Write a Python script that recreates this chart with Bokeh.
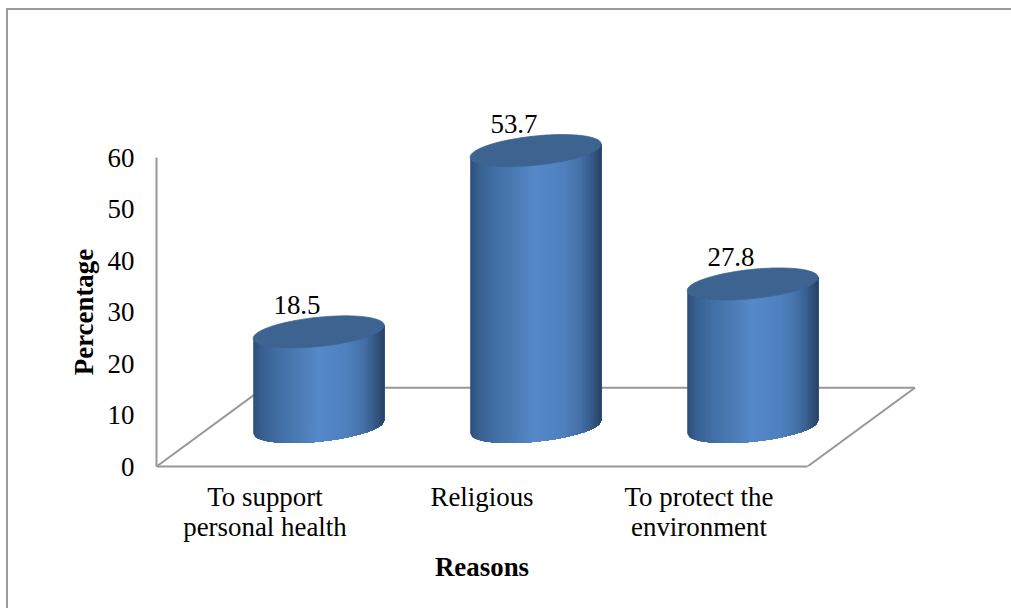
import numpy as np
from bokeh.plotting import figure
from bokeh.models import Range1d, FixedTicker, LinearAxis
from bokeh.core.properties import value
from bokeh.embed import file_html
from bokeh.resources import INLINE

categories = ["To support\npersonal health", "Religious", "To protect the\nenvironment"]
percentages = [18.5, 53.7, 27.8]
labels = ["18.5", "53.7", "27.8"]
y_ticks = [0, 10, 20, 30, 40, 50, 60]
x_title = "Reasons"
y_title = "Percentage"

W, H = 1011, 608
F_L, F_B = 156, 142
PX_X, PX_Y = 217.0, 5.15
SERIF = "Liberation Serif"
FS = "26.9px"
GREY = "#979797"

frame_w, frame_h = W - F_L, H - F_B
p = figure(width=W, height=H, output_backend="svg", toolbar_location=None,
           x_axis_type=None, y_axis_type=None,
           x_range=Range1d(-0.5, -0.5 + frame_w / PX_X),
           y_range=Range1d(0, frame_h / PX_Y),
           min_border_left=F_L, min_border_right=0, min_border_top=0, min_border_bottom=F_B)
p.grid.visible = False
p.outline_line_color = None
p.background_fill_color = None
p.border_fill_color = None
# outer frame: its right and bottom sides run off the page
p.styles = {
    "background-color": "white",
    "background-image": "linear-gradient(#9a9a9a,#9a9a9a),linear-gradient(#9a9a9a,#9a9a9a)",
    "background-size": "100% 2px, 2px 100%",
    "background-position": "6px 8px, 6px 8px",
    "background-repeat": "no-repeat",
}

# axes
yax = LinearAxis(ticker=FixedTicker(ticks=y_ticks), bounds=(0, 60))
xax = LinearAxis(ticker=FixedTicker(ticks=[0, 1, 2]), bounds=(-0.5, 2.5),
                 major_label_overrides={i: c for i, c in enumerate(categories)})
for ax in (xax, yax):
    ax.axis_line_color = GREY
    ax.axis_line_width = 2
    ax.major_tick_line_color = None
    ax.minor_tick_line_color = None
    ax.major_label_text_font = SERIF
    ax.major_label_text_font_size = FS
    ax.major_label_text_color = "black"
yax.major_label_standoff = 16
xax.major_label_standoff = 9
xax.major_label_text_line_height = 1.03
p.add_layout(yax, "left")
p.add_layout(xax, "below")

# axis titles, centred on the axes (not on the whole plotting area)
xt = LinearAxis(ticker=FixedTicker(ticks=[1]), major_label_overrides={1: x_title})
yt = LinearAxis(ticker=FixedTicker(ticks=[30]), major_label_overrides={30: y_title},
                major_label_orientation="vertical")
for ax in (xt, yt):
    ax.axis_line_color = None
    ax.major_tick_line_color = None
    ax.minor_tick_line_color = None
    ax.major_label_text_font = SERIF
    ax.major_label_text_font_size = FS
    ax.major_label_text_font_style = "bold"
    ax.major_label_text_color = "black"
xt.major_label_standoff = 0
yt.major_label_standoff = 0
p.add_layout(yt, "left")
p.add_layout(xt, "below")

# 3-D floor
DX, DY = 0.495, 15.3
floor_x = [[-0.5, -0.5 + DX], [-0.5 + DX, 2.5 + DX], [2.5 + DX, 2.5]]
floor_y = [[0, DY], [DY, DY], [DY, 0]]
p.multi_line(floor_x, floor_y, line_color=GREY, line_width=2)

# data labels, partly covered by the cylinders
bx = [i + DX / 2 for i in range(3)]
p.text([b - 0.1 for b in bx], [v + DY / 2 + 5.2 for v in percentages], text=labels,
       text_font=value(SERIF), text_font_size=value(FS), text_color="black",
       text_align="center", text_baseline="middle")

# cylinders
A, TILT, S = 65.5, 6.5, 14.6
stops = [0.0, 0.06, 0.2, 0.35, 0.5, 0.72, 0.85, 0.94, 1.0]
rgb = np.array([[46, 80, 122], [56, 96, 144], [66, 112, 166], [76, 124, 180], [86, 137, 201],
                [78, 128, 190], [68, 112, 166], [52, 88, 132], [42, 68, 104]], float)


def color(f):
    c = [np.interp(f, stops, rgb[:, k]) for k in range(3)]
    return "#%02x%02x%02x" % tuple(int(round(v)) for v in c)


N = 66
edges = np.linspace(-1, 1, N + 1)
front = TILT * edges - S * np.sqrt(1 - edges ** 2)
t = np.linspace(0, 2 * np.pi, 121)
for b, v in zip(bx, percentages):
    base = DY / 2
    top = base + v
    ex = b + A * edges / PX_X
    xs, ys, cols = [], [], []
    for i in range(N):
        # each strip reaches to the right side and is overpainted by the next one: no seams
        xs.append(np.concatenate([ex[i:], ex[i:][::-1]]))
        ys.append(np.concatenate([top + front[i:] / PX_Y, (base + front[i:] / PX_Y)[::-1]]))
        cols.append(color(i / (N - 1)))
    p.patches(xs, ys, fill_color=cols, line_color=None)
    p.patch(b + A * np.cos(t) / PX_X, top + (TILT * np.cos(t) + S * np.sin(t)) / PX_Y,
            fill_color="#3d6491", line_color="#3d6491", line_width=0.8)

open("out.html", "w").write(file_html(p, INLINE))
